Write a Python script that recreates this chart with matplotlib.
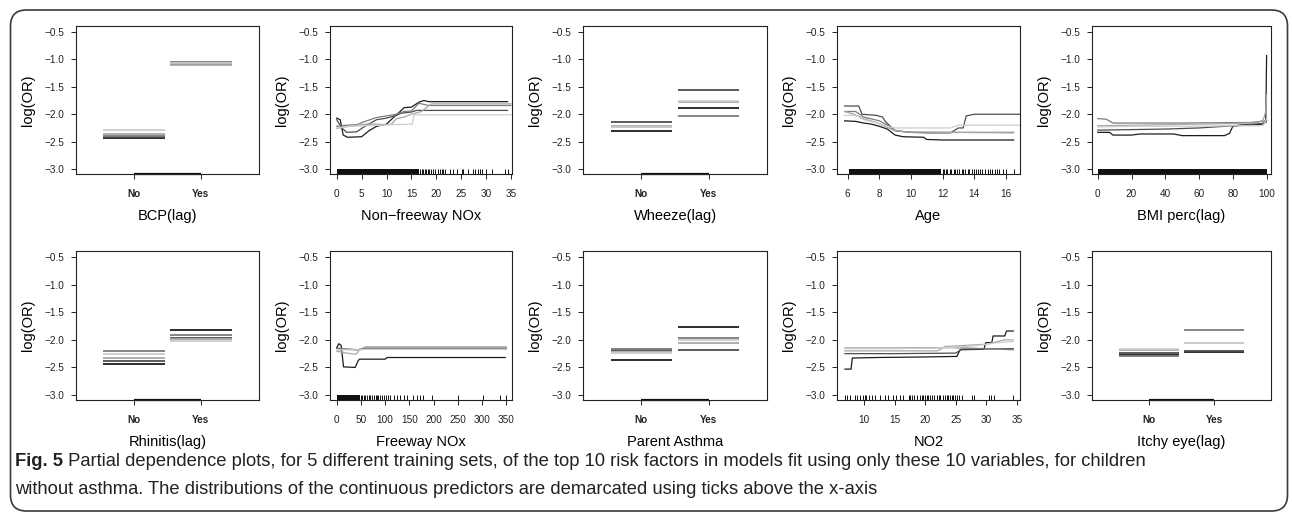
import matplotlib
matplotlib.use("Agg")
import matplotlib.pyplot as plt
from matplotlib.patches import FancyBboxPatch, Rectangle
from matplotlib.transforms import IdentityTransform

plt.rcParams['font.family'] = ['Liberation Sans', 'DejaVu Sans']

# ---------------- data ----------------
BIN_LABELS = ["No", "Yes"]
SERIES_COLORS = ["#1c1c1c", "#4d4d4d", "#7c7c7c", "#a8a8a8", "#cdcdcd"]
Y_TICKS = [-3.0, -2.5, -2.0, -1.5, -1.0, -0.5]

# binary predictors: value per training set (5 sets)
bcp_no = [-2.44, -2.42, -2.39, -2.36, -2.29]
bcp_yes = [-1.07, -1.09, -1.04, -1.11, -1.06]
wheeze_no = [-2.30, -2.14, -2.24, -2.21, -2.23]
wheeze_yes = [-1.88, -1.56, -2.03, -1.77, -1.75]
rhinitis_no = [-2.44, -2.38, -2.20, -2.33, -2.26]
rhinitis_yes = [-1.83, -1.97, -1.91, -1.99, -2.02]
parent_no = [-2.36, -2.18, -2.16, -2.22, -2.24]
parent_yes = [-1.76, -2.19, -1.97, -2.06, -2.01]
itchy_no = [-2.27, -2.24, -2.30, -2.19, -2.16]
itchy_yes = [-2.22, -2.20, -1.82, -2.06, -2.05]

# Non-freeway NOx partial dependence curves
nfnox_x0 = [0, 0.7, 1.3, 2.2, 5, 6.5, 8, 10, 11.5, 12.5, 13.5, 15, 16.5, 17.5, 18.5, 34.3]
nfnox_y0 = [-2.07, -2.10, -2.38, -2.42, -2.41, -2.30, -2.22, -2.18, -2.05, -1.97, -1.88, -1.87, -1.78, -1.75, -1.77, -1.77]
nfnox_x1 = [0, 1, 2, 4, 6, 8, 10, 12, 13, 15, 16, 19, 34.3]
nfnox_y1 = [-2.10, -2.25, -2.33, -2.32, -2.20, -2.10, -2.07, -2.02, -1.98, -1.96, -1.93, -1.93, -1.93]
nfnox_x2 = [0, 2, 4, 6, 8, 10, 12, 13.5, 15, 16.5, 18.5, 35]
nfnox_y2 = [-2.22, -2.20, -2.19, -2.12, -2.06, -2.03, -2.00, -1.95, -1.94, -1.80, -1.84, -1.84]
nfnox_x3 = [0, 2, 4, 6, 8, 10, 11, 12, 13.5, 15, 17, 19, 35]
nfnox_y3 = [-2.26, -2.22, -2.20, -2.18, -2.18, -2.19, -2.18, -2.08, -2.05, -2.00, -1.95, -1.81, -1.81]
nfnox_x4 = [0, 3, 6, 9, 11, 15.2, 15.5, 35]
nfnox_y4 = [-2.25, -2.22, -2.21, -2.20, -2.19, -2.18, -2.01, -2.01]
nfnox_rug_dense = [(0.0, 16.5)]
nfnox_rug = [16.8, 17.1, 17.4, 17.7, 18.0, 18.3, 18.6, 18.9, 19.4, 19.7, 20.3, 20.7, 21.1,
             21.4, 21.8, 22.8, 23.4, 24.1, 25.1, 25.4, 26.4, 27.4, 27.8, 28.3, 28.8,
             29.1, 30.0, 31.1, 33.8, 34.3]

# Age
age_x0 = [5.8, 6.5, 7.0, 7.5, 8.0, 8.5, 9.0, 9.5, 10.8, 11.0, 12.0, 16.5]
age_y0 = [-2.12, -2.13, -2.16, -2.18, -2.22, -2.27, -2.38, -2.41, -2.42, -2.46, -2.47, -2.47]
age_x1 = [5.8, 6.7, 6.9, 7.8, 8.2, 8.4, 9.0, 10.0, 11.0, 12.5, 13.0, 13.3, 13.5, 14.0, 16.9]
age_y1 = [-1.85, -1.85, -2.00, -2.02, -2.05, -2.14, -2.30, -2.33, -2.34, -2.34, -2.25, -2.25, -2.03, -2.00, -2.00]
age_x2 = [5.8, 6.5, 7.0, 8.0, 8.5, 9.0, 10.0, 12.0, 16.5]
age_y2 = [-1.95, -1.95, -2.05, -2.12, -2.20, -2.30, -2.33, -2.33, -2.33]
age_x3 = [5.8, 6.4, 7.0, 7.8, 8.8, 9.5, 12.0, 16.5]
age_y3 = [-1.95, -2.00, -2.08, -2.15, -2.28, -2.32, -2.33, -2.34]
age_x4 = [5.8, 6.5, 7.0, 8.0, 8.5, 9.0, 12.5, 13.0, 16.9]
age_y4 = [-2.02, -2.02, -2.10, -2.17, -2.22, -2.25, -2.25, -2.20, -2.20]
age_rug_dense = [(6.05, 11.9)]
age_rug = [12.0, 12.1, 12.2, 12.3, 12.45, 12.55, 12.7, 12.8, 12.9, 13.05, 13.2, 13.3, 13.45,
           13.6, 13.7, 13.85, 14.0, 14.1, 14.25, 14.4, 14.5, 14.7, 14.85, 15.0, 15.1,
           15.3, 15.45, 15.6, 15.8, 16.0, 16.5]

# BMI percentile
bmi_x0 = [0, 7, 9, 20, 25, 45, 50, 75, 78, 80, 85, 95, 98, 99.5, 100]
bmi_y0 = [-2.33, -2.33, -2.38, -2.38, -2.36, -2.36, -2.39, -2.39, -2.35, -2.22, -2.20, -2.19, -2.18, -2.10, -0.93]
bmi_x1 = [0, 20, 40, 60, 80, 90, 97, 99.5, 100]
bmi_y1 = [-2.29, -2.28, -2.27, -2.25, -2.21, -2.18, -2.17, -2.15, -2.12]
bmi_x2 = [0, 5, 9, 50, 90, 97, 99, 100]
bmi_y2 = [-2.08, -2.09, -2.16, -2.16, -2.15, -2.13, -2.12, -2.10]
bmi_x3 = [0, 20, 40, 60, 80, 95, 98, 99.5, 100]
bmi_y3 = [-2.21, -2.20, -2.19, -2.18, -2.17, -2.15, -2.10, -1.95, -1.65]
bmi_x4 = [0, 20, 50, 80, 95, 98, 100]
bmi_y4 = [-2.23, -2.22, -2.22, -2.21, -2.21, -2.20, -2.08]
bmi_rug_dense = [(0.0, 100.0)]
bmi_rug = []

# Freeway NOx
fnox_x0 = [0, 4, 9, 14, 38, 44, 47, 100, 104, 348]
fnox_y0 = [-2.14, -2.07, -2.10, -2.49, -2.50, -2.38, -2.35, -2.35, -2.32, -2.32]
fnox_x1 = [0, 20, 40, 50, 55, 350]
fnox_y1 = [-2.15, -2.17, -2.18, -2.17, -2.16, -2.16]
fnox_x2 = [0, 30, 45, 55, 60, 350]
fnox_y2 = [-2.16, -2.17, -2.18, -2.15, -2.13, -2.13]
fnox_x3 = [0, 10, 20, 30, 40, 45, 50, 55, 350]
fnox_y3 = [-2.21, -2.22, -2.24, -2.25, -2.26, -2.20, -2.17, -2.14, -2.14]
fnox_x4 = [0, 10, 50, 60, 350]
fnox_y4 = [-2.20, -2.18, -2.18, -2.17, -2.17]
fnox_rug_dense = [(0.0, 48.0)]
fnox_rug = [50, 53, 56, 59, 62, 66, 69, 72, 76, 80, 83, 86, 90, 94, 97, 101, 105, 110, 118,
            124, 131, 138, 145, 158, 165, 172, 179, 196, 251, 303, 337, 349]

# NO2
no2_x0 = [6.9, 7.9, 8.1, 12, 20, 25.2, 25.7, 29.6, 29.9, 30.9, 31.1, 33.0, 33.3, 34.4]
no2_y0 = [-2.53, -2.53, -2.33, -2.32, -2.31, -2.30, -2.18, -2.17, -2.05, -2.05, -1.93, -1.93, -1.84, -1.84]
no2_x1 = [6.9, 15, 25, 26, 34.4]
no2_y1 = [-2.25, -2.25, -2.24, -2.17, -2.16]
no2_x2 = [6.9, 15, 24, 30, 34.4]
no2_y2 = [-2.15, -2.15, -2.14, -2.16, -2.18]
no2_x3 = [6.9, 15, 22, 23.3, 30, 33.0, 34.4]
no2_y3 = [-2.20, -2.20, -2.20, -2.12, -2.08, -2.00, -2.00]
no2_x4 = [6.9, 15, 24, 28, 32, 34.4]
no2_y4 = [-2.16, -2.16, -2.14, -2.11, -2.05, -2.03]
no2_rug_dense = []
no2_rug = [6.9, 7.3, 7.7, 8.5, 8.9, 9.3, 9.8, 10.2, 10.4, 10.9, 11.3, 11.8, 12.6, 13.4, 14.0,
           14.8, 15.2, 15.9, 16.4, 17.3, 17.5, 17.8, 18.1, 18.6, 19.2, 19.5, 19.7, 20.0,
           20.3, 20.5, 20.8, 21.1, 21.4, 21.9, 22.2, 22.5, 23.0, 23.3, 23.6, 23.8, 24.1,
           24.4, 24.6, 24.9, 25.2, 25.5, 26.0, 27.7, 28.0, 30.4, 30.8, 31.3, 34.4]

CAPTION_BOLD = "Fig. 5"
CAPTION_L1 = (" Partial dependence plots, for 5 different training sets, of the top 10 risk "
              "factors in models fit using only these 10 variables, for children")
CAPTION_L2 = ("without asthma. The distributions of the continuous predictors are demarcated "
              "using ticks above the x-axis")

# ---------------- figure ----------------
W, H = 1292, 516
fig = plt.figure(figsize=(W / 100, H / 100), dpi=100)

frame = FancyBboxPatch((10.5, 5.0), 1277, 501,
                       boxstyle="round,pad=0,rounding_size=16",
                       transform=IdentityTransform(), fill=False,
                       edgecolor="#3a3a3a", linewidth=1.2)
fig.patches.append(frame)

LEFTS = [76, 330, 583, 837, 1092]
WIDTHS = [183, 182, 184, 183, 179]
ROWS = [(26, 174), (251, 400)]
TICK_FS = 7.2
LABEL_FS = 10.5


def make_ax(row, col):
    top, bot = ROWS[row]
    ax = fig.add_axes([LEFTS[col] / W, 1 - bot / H, WIDTHS[col] / W, (bot - top) / H])
    ax.set_ylim(-3.09, -0.39)
    ax.set_yticks(Y_TICKS)
    ax.set_yticklabels(["\u22123.0", "\u22122.5", "\u22122.0", "\u22121.5", "\u22121.0", "\u22120.5"])
    for s in ax.spines.values():
        s.set_linewidth(0.8)
        s.set_color("#222222")
    ax.tick_params(axis="both", direction="out", length=3.5, width=0.7,
                   labelsize=TICK_FS, colors="#222222")
    ax.tick_params(axis="y", pad=5)
    ax.tick_params(axis="x", pad=7)
    ax.set_ylabel("log(OR)", fontsize=LABEL_FS)
    ax.yaxis.set_label_coords(-41 / WIDTHS[col], 0.5)
    return ax


def cat_panel(ax, no_vals, yes_vals, xlabel, col):
    for i, (n, y) in enumerate(zip(no_vals, yes_vals)):
        ax.hlines(n, 1 - 0.46, 1 + 0.46, color=SERIES_COLORS[i], lw=1.3)
        ax.hlines(y, 2 - 0.46, 2 + 0.46, color=SERIES_COLORS[i], lw=1.3)
    ax.set_xlim(0.13, 2.87)
    ax.set_xticks([1, 2])
    ax.set_xticklabels(BIN_LABELS, fontweight="bold")
    ax.plot([1, 2], [0, 0], transform=ax.get_xaxis_transform(), color="#111111",
            lw=1.6, clip_on=False, solid_capstyle="butt")
    ax.set_xlabel(xlabel, fontsize=LABEL_FS)
    ax.xaxis.set_label_coords(0.5, -0.235)


def cont_panel(ax, xs, ys, dense, rug, xlim, xticks, xlabel):
    for i, (x, y) in enumerate(zip(xs, ys)):
        ax.plot(x, y, color=SERIES_COLORS[i], lw=0.9)
    tr = ax.get_xaxis_transform()
    for a, b in dense:
        ax.add_patch(Rectangle((a, 0), b - a, 0.035, transform=tr, color="#111111", lw=0))
    if rug:
        ax.vlines(rug, 0, 0.035, transform=tr, color="#111111", lw=0.7)
    ax.set_xlim(*xlim)
    ax.set_xticks(xticks)
    ax.set_xlabel(xlabel, fontsize=LABEL_FS)
    ax.xaxis.set_label_coords(0.5, -0.235)


ax = make_ax(0, 0)
cat_panel(ax, bcp_no, bcp_yes, "BCP(lag)", 0)

ax = make_ax(0, 1)
cont_panel(ax, [nfnox_x0, nfnox_x1, nfnox_x2, nfnox_x3, nfnox_x4],
           [nfnox_y0, nfnox_y1, nfnox_y2, nfnox_y3, nfnox_y4],
           nfnox_rug_dense, nfnox_rug, (-1.35, 35.2), [0, 5, 10, 15, 20, 25, 30, 35],
           "Non\u2212freeway NOx")

ax = make_ax(0, 2)
cat_panel(ax, wheeze_no, wheeze_yes, "Wheeze(lag)", 2)

ax = make_ax(0, 3)
cont_panel(ax, [age_x0, age_x1, age_x2, age_x3, age_x4],
           [age_y0, age_y1, age_y2, age_y3, age_y4],
           age_rug_dense, age_rug, (5.32, 16.9), [6, 8, 10, 12, 14, 16], "Age")

ax = make_ax(0, 4)
cont_panel(ax, [bmi_x0, bmi_x1, bmi_x2, bmi_x3, bmi_x4],
           [bmi_y0, bmi_y1, bmi_y2, bmi_y3, bmi_y4],
           bmi_rug_dense, bmi_rug, (-3.4, 102.6), [0, 20, 40, 60, 80, 100], "BMI perc(lag)")

ax = make_ax(1, 0)
cat_panel(ax, rhinitis_no, rhinitis_yes, "Rhinitis(lag)", 0)

ax = make_ax(1, 1)
cont_panel(ax, [fnox_x0, fnox_x1, fnox_x2, fnox_x3, fnox_x4],
           [fnox_y0, fnox_y1, fnox_y2, fnox_y3, fnox_y4],
           fnox_rug_dense, fnox_rug, (-14, 362), [0, 50, 100, 150, 200, 250, 300, 350],
           "Freeway NOx")

ax = make_ax(1, 2)
cat_panel(ax, parent_no, parent_yes, "Parent Asthma", 2)

ax = make_ax(1, 3)
cont_panel(ax, [no2_x0, no2_x1, no2_x2, no2_x3, no2_x4],
           [no2_y0, no2_y1, no2_y2, no2_y3, no2_y4],
           no2_rug_dense, no2_rug, (5.6, 35.5), [10, 15, 20, 25, 30, 35], "NO2")

ax = make_ax(1, 4)
cat_panel(ax, itchy_no, itchy_yes, "Itchy eye(lag)", 4)

# caption
CAP_FONT = ["Liberation Sans", "DejaVu Sans"]
CAP_FS = 13.2
t1 = fig.text(15 / W, 1 - 462 / H, CAPTION_BOLD, fontsize=CAP_FS, fontweight="bold",
              family=CAP_FONT, va="center", ha="left", color="#222222")
renderer = fig.canvas.get_renderer()
bb = t1.get_window_extent(renderer)
fig.text(bb.x1 / W, 1 - 462 / H, CAPTION_L1, fontsize=CAP_FS, family=CAP_FONT,
         va="center", ha="left", color="#222222")
fig.text(15 / W, 1 - 490 / H, CAPTION_L2, fontsize=CAP_FS, family=CAP_FONT,
         va="center", ha="left", color="#222222")

fig.savefig("out.png", dpi=100)
